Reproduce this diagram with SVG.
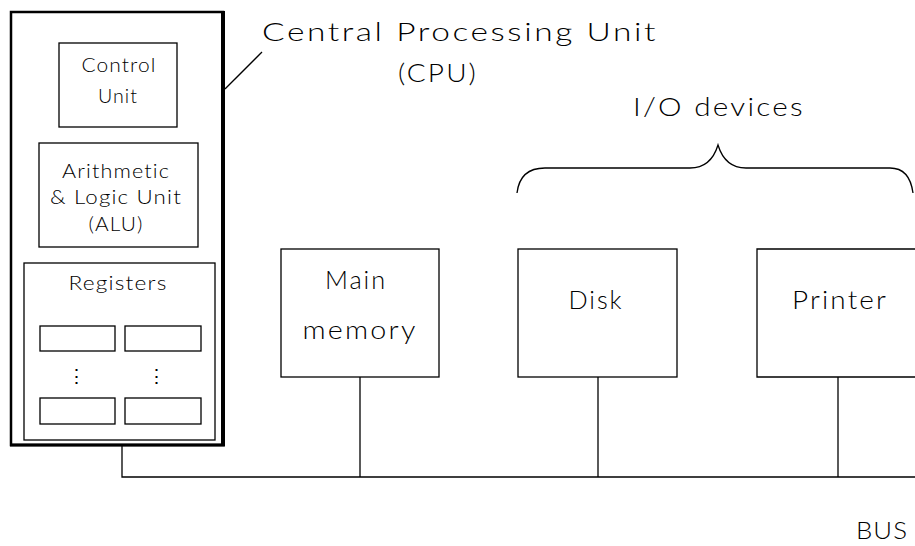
<svg xmlns="http://www.w3.org/2000/svg" width="915" height="546" viewBox="0 0 915 546">
<style>
.box{fill:none;stroke:#000;stroke-width:1.3}
.ln{fill:none;stroke:#000;stroke-width:1.3}
.t{font-family:Lato,"Liberation Sans",Arial,sans-serif;font-weight:300;fill:#000;text-anchor:middle}
.s{font-size:19px;letter-spacing:1px}
.m{font-size:26px;letter-spacing:2px}
</style>
<rect width="915" height="546" fill="#fff"/>
<g id="cpu">
<rect x="11" y="12" width="212" height="433" fill="none" stroke="#000" stroke-width="2.5"/>
<line x1="223" y1="11" x2="223" y2="446" stroke="#000" stroke-width="4"/>
<line x1="10" y1="445" x2="225" y2="445" stroke="#000" stroke-width="3"/>
</g>
<g id="cpu-label">
<line class="ln" x1="225" y1="89" x2="262" y2="52"/>
<text class="t m" x="460" y="41" textLength="396" lengthAdjust="spacingAndGlyphs">Central Processing Unit</text>
<text class="t m" x="438" y="82" textLength="80" lengthAdjust="spacingAndGlyphs">(CPU)</text>
</g>
<g id="control-unit">
<rect class="box" x="59" y="43" width="118" height="84"/>
<text class="t s" x="119" y="72" textLength="75" lengthAdjust="spacingAndGlyphs">Control</text>
<text class="t s" x="118" y="103" textLength="40" lengthAdjust="spacingAndGlyphs">Unit</text>
</g>
<g id="alu">
<rect class="box" x="39" y="143" width="159" height="104"/>
<text class="t s" x="116" y="178" textLength="108" lengthAdjust="spacingAndGlyphs">Arithmetic</text>
<text class="t s" x="116" y="204" textLength="132" lengthAdjust="spacingAndGlyphs">&amp; Logic Unit</text>
<text class="t s" x="116" y="231" textLength="55" lengthAdjust="spacingAndGlyphs">(ALU)</text>
</g>
<g id="registers">
<rect class="box" x="24" y="263" width="191" height="177"/>
<text class="t s" x="118" y="290" textLength="99" lengthAdjust="spacingAndGlyphs">Registers</text>
<rect class="box" x="40" y="326" width="75" height="25"/>
<rect class="box" x="125" y="326" width="76" height="25"/>
<rect class="box" x="40" y="398" width="75" height="26"/>
<rect class="box" x="125" y="398" width="76" height="26"/>
<text class="t s" x="77" y="383" letter-spacing="0">⋮</text>
<text class="t s" x="157" y="383" letter-spacing="0">⋮</text>
</g>
<g id="main-memory">
<rect class="box" x="281" y="249" width="158" height="128"/>
<text class="t m" x="356" y="289" textLength="62" lengthAdjust="spacingAndGlyphs">Main</text>
<text class="t m" x="360" y="339" textLength="115" lengthAdjust="spacingAndGlyphs">memory</text>
</g>
<g id="disk">
<rect class="box" x="518" y="249" width="159" height="128"/>
<text class="t m" x="596" y="309" textLength="55" lengthAdjust="spacingAndGlyphs">Disk</text>
</g>
<g id="printer">
<path class="box" d="M916 249 H757 V377 H916"/>
<text class="t m" x="840" y="309" textLength="96" lengthAdjust="spacingAndGlyphs">Printer</text>
</g>
<g id="io-label">
<text class="t m" x="719" y="116" textLength="172" lengthAdjust="spacingAndGlyphs">I/O devices</text>
<path class="ln" d="M517 193 C519 176 528 168 545 168 H690 C706 168 714 158 718 145 C722 158 730 168 746 168 H890 C905 168 911 178 913 193"/>
</g>
<g id="connectors">
<path class="ln" d="M122 446 V477 H915"/>
<line class="ln" x1="360" y1="377" x2="360" y2="477"/>
<line class="ln" x1="598" y1="377" x2="598" y2="477"/>
<line class="ln" x1="838" y1="377" x2="838" y2="477"/>
</g>
<text class="t" x="882" y="539" font-size="24" letter-spacing="1" textLength="52" lengthAdjust="spacingAndGlyphs">BUS</text>
</svg>
